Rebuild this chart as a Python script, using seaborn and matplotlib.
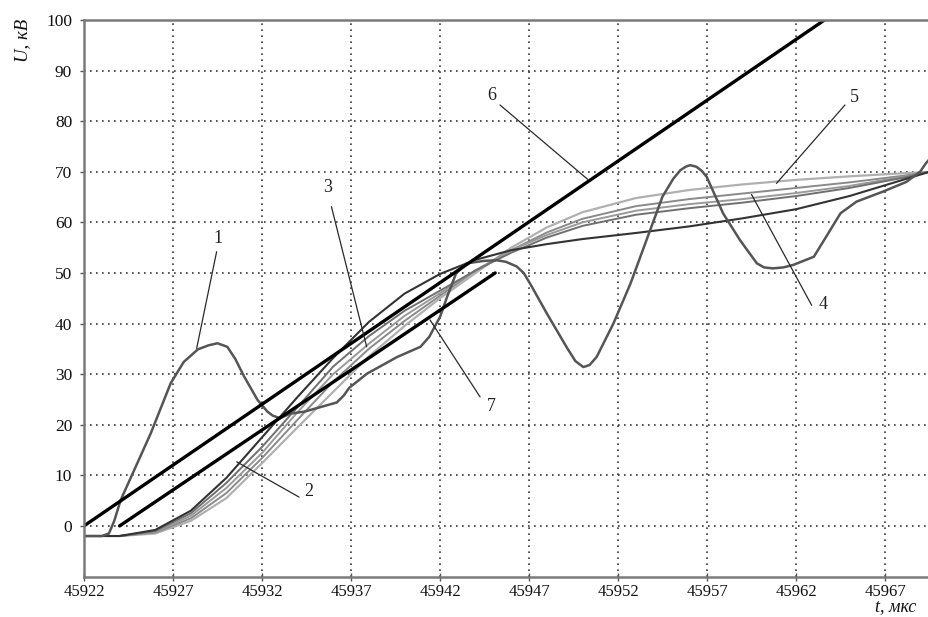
import matplotlib
matplotlib.use("Agg")
import matplotlib.pyplot as plt
import seaborn as sns

# Curve 1: oscillating voltage
t1 = [45922, 45923, 45923.4, 45923.7, 45924.06, 45925.75, 45926.87, 45927.6, 45928.4,
      45929.0, 45929.5, 45930.05, 45930.5, 45931.0, 45931.75, 45932.3, 45932.6, 45933.0,
      45933.6, 45934.4, 45935.3, 45936.2, 45936.6, 45936.9, 45937.9, 45939.6, 45940.9,
      45941.4, 45942.0, 45942.4, 45942.9, 45943.5, 45944.5, 45945.2, 45945.7, 45946.3,
      45946.7, 45947.06, 45948.0, 45949.1, 45949.6, 45950.05, 45950.4, 45950.8, 45951.74,
      45952.7, 45953.6, 45954.5, 45955.1, 45955.5, 45955.8, 45956.05, 45956.4, 45956.7,
      45956.98, 45957.9, 45958.85, 45959.8, 45960.2, 45960.7, 45961.3, 45961.85, 45963.0,
      45963.7, 45964.5, 45965.4, 45966.9, 45968.2, 45968.97, 45969.3, 45969.5]
u1 = [-2, -2, -1.5, 1.0, 5.1, 18.3, 28.2, 32.4, 34.9,
      35.7, 36.1, 35.4, 33.0, 29.5, 24.9, 22.6, 21.8, 21.3,
      22.2, 22.6, 23.5, 24.4, 25.8, 27.3, 30.1, 33.4, 35.4,
      37.4, 41.3, 45.3, 49.9, 51.9, 52.4, 52.5, 52.2, 51.3,
      50.0, 47.9, 42.0, 35.4, 32.6, 31.4, 31.8, 33.4, 40.0,
      47.9, 56.5, 65.1, 68.6, 70.3, 71.0, 71.3, 71.0, 70.2,
      69.0, 61.8, 56.5, 51.9, 51.1, 50.9, 51.1, 51.6, 53.2,
      57.2, 61.8, 64.1, 66.1, 68.0, 70.0, 71.7, 72.5]

# Smooth curves 2-5 and a companion curve share one time grid
t_s = [45922, 45924, 45926, 45928, 45930, 45932, 45934, 45936, 45938, 45940, 45942,
       45944, 45946, 45948, 45950, 45953, 45956, 45959, 45962, 45965, 45968, 45969.5]
u2 = [-2, -2, -0.8, 3.0, 9.5, 17.5, 25.5, 33.2, 40.3, 45.9, 49.8,
      52.6, 54.5, 55.7, 56.7, 57.9, 59.2, 60.8, 62.6, 65.2, 68.4, 70]
u3 = [-2, -2, -1.2, 2.0, 7.5, 14.4, 22.5, 30, 36, 41.5, 46,
      50.5, 54.5, 57.5, 60, 62.3, 63.6, 64.6, 65.8, 67.2, 69, 70]
u3b = [-2, -2, -1, 2.5, 8.5, 15.6, 23.5, 31.5, 37.5, 42.5, 46.5,
       50.5, 54, 57, 59.3, 61.5, 62.8, 63.9, 65.2, 66.8, 68.8, 70]
u4 = [-2, -2, -1.3, 1.5, 6.5, 13.4, 21, 28.5, 35, 40.5, 45.5,
      50.5, 54.5, 58, 60.7, 63.2, 64.6, 65.7, 66.8, 67.9, 69.2, 70]
u5 = [-2, -2, -1.5, 1.0, 5.5, 12.4, 19.5, 26.5, 33.5, 39.5, 45,
      50, 55, 59, 62, 64.8, 66.4, 67.5, 68.4, 69.1, 69.7, 70]

# Straight lines 6 and 7
t6 = [45922, 45963.6]
u6 = [0, 100]
t7 = [45924, 45945.1]
u7 = [0, 50]

x_ticks = list(range(45922, 45968, 5))
y_ticks = list(range(0, 101, 10))

# Curve labels: text position and leader line (from, to)
labels = ["1", "2", "3", "4", "5", "6", "7"]
label_xy = [(45929.53, 56.9), (45934.6, 6.8), (45935.7, 66.9), (45963.5, 43.8),
            (45965.3, 84.6), (45944.9, 85.0), (45944.9, 23.7)]
leader_from = [(45929.45, 54.2), (45934.08, 5.7), (45935.9, 63.1), (45962.88, 43.6),
               (45964.75, 83.2), (45945.37, 83.2), (45944.25, 25.5)]
leader_to = [(45928.33, 35.1), (45930.58, 12.66), (45937.88, 35.4), (45959.5, 65.5),
             (45960.9, 67.7), (45950.33, 68.4), (45941.44, 40.7)]

sns.set_theme(style="white")
plt.rcParams["font.family"] = ["Liberation Serif", "DejaVu Serif"]

fig = plt.figure(figsize=(9.29, 6.17), dpi=100)
ax = fig.add_axes([84 / 929, 40 / 617, 845 / 929, 557 / 617])

ax.set_xlim(45922, 45969.47)
ax.set_ylim(-10.1, 100)
ax.set_xticks(x_ticks)
ax.set_yticks(y_ticks)
ax.grid(True, linestyle=(0, (1, 2.6)), color="#3a3a3a", linewidth=1.2)
ax.set_axisbelow(True)

smooth = [(u5, "#b0b0b0", 1.6), (u4, "#8a8a8a", 1.4), (u3, "#9a9a9a", 1.4),
          (u3b, "#707070", 1.4), (u2, "#333333", 1.5)]
for u, c, lw in smooth:
    sns.lineplot(x=t_s, y=u, ax=ax, color=c, linewidth=lw, estimator=None, sort=False)

sns.lineplot(x=t1, y=u1, ax=ax, color="#555555", linewidth=1.8, estimator=None, sort=False)
sns.lineplot(x=t6, y=u6, ax=ax, color="#000000", linewidth=2.4, estimator=None, sort=False)
sns.lineplot(x=t7, y=u7, ax=ax, color="#000000", linewidth=2.4, estimator=None, sort=False)

for lab, (tx, ty), (fx, fy), (ex, ey) in zip(labels, label_xy, leader_from, leader_to):
    ax.plot([fx, ex], [fy, ey], color="#2a2a2a", linewidth=0.9)
    ax.text(tx, ty, lab, ha="center", va="center", fontsize=13, color="#222222")

for side in ("left", "bottom", "top"):
    ax.spines[side].set_color("#7a7a7a")
    ax.spines[side].set_linewidth(1.8)
ax.spines["right"].set_visible(False)

ax.tick_params(axis="y", direction="out", length=3, width=1, color="#555555",
               pad=5.5, labelsize=12.5, labelcolor="#111111", left=True)
ax.tick_params(axis="x", direction="inout", length=6, width=1, color="#555555",
               pad=2, labelsize=12, labelcolor="#111111", bottom=True)
ax.set_xlabel("")
ax.set_ylabel("")

fig.text(22.5 / 929, 1 - 19 / 617, "U, кВ", rotation=90, ha="center", va="top",
         style="italic", fontsize=13.5, color="#111111")
fig.text(916 / 929, 2 / 617, "t, мкс", ha="right", va="bottom",
         style="italic", fontsize=13, color="#111111")

fig.savefig("out.png", dpi=100)
